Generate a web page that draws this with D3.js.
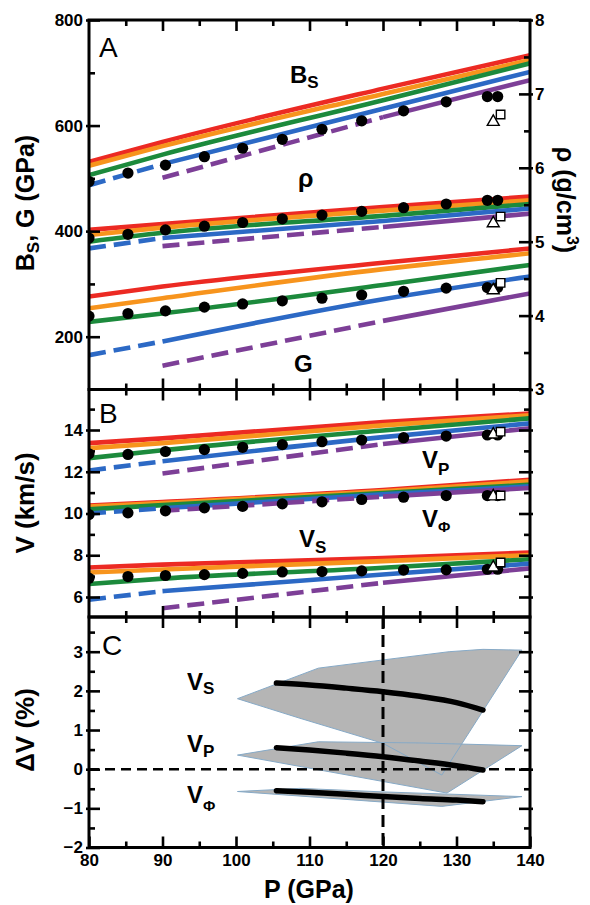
<!DOCTYPE html>
<html><head><meta charset="utf-8">
<script src="https://cdn.jsdelivr.net/npm/d3@7"></script>
<style>body{margin:0;background:#fff} svg{display:block} text{font-family:"Liberation Sans",Arial,Helvetica,sans-serif}</style>
</head><body><svg id="c" width="590" height="905"></svg>
<script>
// ---------------- DATA ----------------
const P_GRID = [80, 90, 120, 140];                 // pressure (GPa) at which model lines are read
const MODELS = ["model 1", "model 2", "model 3", "model 4", "model 5"];
const DASH_END = [null, null, null, 90, 120];       // model line is dashed up to this pressure
// Panel A (left axis, GPa)
const BS_LINES = [[531, 569, 670, 733], [524, 561, 660, 724], [506, 545, 648, 718], [487, 527, 632, 701.5], [null, 501, 616, 686]];
const G_LINES  = [[276, 295, 340, 367], [254, 273, 328, 358], [228, 244, 298, 336], [165, 191, 271, 314], [null, 145, 230, 282]];
// Panel A (right axis, g/cm3)
const RHO_LINES = [[5.16, 5.24, 5.47, 5.61], [5.09, 5.19, 5.42, 5.56], [5.00, 5.12, 5.35, 5.51], [4.91, 5.05, 5.28, 5.45], [null, 4.94, 5.20, 5.38]];
// Panel B (km/s)
const VP_LINES   = [[13.37, 13.60, 14.38, 14.79], [13.13, 13.37, 14.22, 14.71], [12.65, 13.03, 13.98, 14.56], [12.06, 12.50, 13.66, 14.32], [null, 11.92, 13.33, 14.08]];
const VPHI_LINES = [[10.38, 10.55, 11.12, 11.62], [10.33, 10.50, 11.06, 11.54], [10.20, 10.40, 10.98, 11.38], [10.00, 10.25, 10.92, 11.30], [null, 10.13, 10.81, 11.22]];
const VS_LINES   = [[7.41, 7.55, 7.87, 8.13], [7.17, 7.32, 7.72, 8.01], [6.62, 6.88, 7.40, 7.81], [5.87, 6.28, 7.08, 7.60], [null, 5.46, 6.68, 7.37]];
// Experimental points (filled circles)
const P_DOTS    = [80, 85.3, 90.4, 95.7, 100.9, 106.3, 111.7, 117.1, 122.8, 128.6, 134.2, 135.6];
const BS_DOTS   = [494, 510, 525, 541, 557, 574, 593, 609, 628, 645, 655, 655];
const RHO_DOTS  = [5.05, 5.10, 5.16, 5.21, 5.26, 5.31, 5.36, 5.41, 5.46, 5.51, 5.56, 5.56];
const G_DOTS    = [239, 244, 249, 256, 262, 268, 273, 279, 286, 292, 293, 293];
const VP_DOTS   = [12.86, 12.83, 12.97, 13.06, 13.17, 13.30, 13.44, 13.52, 13.63, 13.71, 13.76, 13.76];
const VPHI_DOTS = [9.95, 10.03, 10.13, 10.27, 10.34, 10.46, 10.56, 10.67, 10.78, 10.86, 10.86, 10.86];
const VS_DOTS   = [6.90, 6.98, 7.03, 7.07, 7.13, 7.20, 7.22, 7.25, 7.29, 7.30, 7.33, 7.33];
// Open triangle / open square points
const P_TRI = 135.0, P_SQ = 136.0;
const TRI = {bs: 607, rho: 5.25, g: 288, vp: 13.78, vphi: 10.82, vs: 7.41};
const SQ  = {bs: 621, rho: 5.34, g: 302, vp: 13.92, vphi: 10.86, vs: 7.65};
// Panel C: velocity differences (%)
const P_DV     = [105.5, 110, 115, 120, 125, 130, 133.6];
const DVS      = [2.20, 2.15, 2.07, 1.98, 1.86, 1.70, 1.51];
const DVP      = [0.55, 0.49, 0.41, 0.32, 0.21, 0.09, -0.02];
const DVPHI    = [-0.55, -0.59, -0.64, -0.70, -0.75, -0.79, -0.83];
// Uncertainty bands: [P, dV] upper edge then lower edge
const VS_BAND_UP   = [[100.2, 1.80], [111.2, 2.58], [120, 2.79], [129, 3.00], [133.6, 3.06], [138.9, 3.04]];
const VS_BAND_LO   = [[100.2, 1.80], [108.7, 1.30], [120, 0.66], [128, -0.15]];
const VP_BAND_UP   = [[100.2, 0.36], [111.2, 0.70], [125, 0.67], [138.9, 0.60]];
const VP_BAND_LO   = [[100.2, 0.36], [128.7, -0.61]];
const VPHI_BAND_UP = [[100.2, -0.57], [108.7, -0.49], [120, -0.58], [138.9, -0.70]];
const VPHI_BAND_LO = [[100.2, -0.57], [128, -0.95]];
const X_MAJOR = [80, 90, 100, 110, 120, 130, 140];

// ---------------- STYLE / LAYOUT ----------------
const COLORS = ["#ec2a23", "#f7941d", "#1c8a3c", "#2c69c5", "#7d3f97"];
const FONT = '"Liberation Sans",Arial,Helvetica,sans-serif';
const svg = d3.select("#c");
const X0 = 89, X1 = 530;
const PAN = [{top: 20, bottom: 389.5}, {top: 389.5, bottom: 617}, {top: 617, bottom: 847.5}];
const x  = d3.scaleLinear().domain([80, 140]).range([X0, X1]);
const yA = d3.scaleLinear().domain([200, 800]).range([336.7, 20]);
const yR = d3.scaleLinear().domain([3, 8]).range([389.5, 20]);
const yB = d3.scaleLinear().domain([6, 14]).range([597, 430]);
const yC = d3.scaleLinear().domain([-2, 3]).range([847.5, 651.7]);

const defs = svg.append("defs");
PAN.forEach((p, i) => defs.append("clipPath").attr("id", "clip" + i)
  .append("rect").attr("x", X0).attr("y", p.top).attr("width", X1 - X0).attr("height", p.bottom - p.top));

function modelLines(g, lines, y) {
  lines.forEach((vals, i) => {
    const pts = P_GRID.map((p, j) => [p, vals[j]]).filter(d => d[1] != null);
    const line = d3.line().x(d => x(d[0])).y(d => y(d[1])).curve(d3.curveMonotoneX);
    const de = DASH_END[i];
    const segs = de == null ? [[pts, false]] :
      [[pts.filter(d => d[0] <= de), true], [pts.filter(d => d[0] >= de), false]];
    segs.forEach(([s, dashed]) => {
      if (s.length < 2) return;
      g.append("path").attr("d", line(s)).attr("fill", "none")
        .attr("stroke", COLORS[i]).attr("stroke-width", 4.6)
        .attr("stroke-dasharray", dashed ? "17,8" : null);
    });
  });
}
function dots(g, vals, y) {
  g.selectAll(null).data(P_DOTS.map((p, i) => [p, vals[i]])).enter().append("circle")
    .attr("cx", d => x(d[0])).attr("cy", d => y(d[1])).attr("r", 5.6).attr("fill", "#000");
}
function openMarks(g, key, y) {
  const tx = x(P_TRI), ty = y(TRI[key]);
  g.append("path").attr("d", d3.symbol(d3.symbolTriangle, 62)())
    .attr("transform", `translate(${tx},${ty})`).attr("fill", "#fff").attr("stroke", "#000").attr("stroke-width", 1.4);
  const sx = x(P_SQ), sy = y(SQ[key]);
  g.append("path").attr("d", d3.symbol(d3.symbolSquare, 72)())
    .attr("transform", `translate(${sx},${sy})`).attr("fill", "#fff").attr("stroke", "#000").attr("stroke-width", 1.4);
}

function styleAxis(g) {
  g.select(".domain").remove();
  g.selectAll("line").attr("stroke", "#000").attr("stroke-width", 2.6);
  g.selectAll("text").attr("font-family", FONT).attr("font-size", 17).attr("font-weight", "bold").attr("fill", "#000");
}
function axis(gen) { return g => { g.call(gen); styleAxis(g); }; }

function frame(pi, yScale, major, minor, labelLeft, yRight, rMajor, rMinor, labelRight, labelBottom) {
  const p = PAN[pi];
  const xMinor = d3.range(85, 140, 10);
  [["top", d3.axisTop, p.top], ["bottom", d3.axisBottom, p.bottom]].forEach(([side, fn, yy]) => {
    const showLab = side === "bottom" && labelBottom;
    const maj = fn(x).tickValues(showLab ? X_MAJOR : X_MAJOR.slice(1, -1)).tickSize(-11).tickPadding(6)
      .tickFormat(showLab ? d3.format("d") : "");
    svg.append("g").attr("transform", `translate(0,${yy})`).call(axis(maj));
    const mn = fn(x).tickValues(xMinor).tickSize(-6).tickFormat("");
    svg.append("g").attr("transform", `translate(0,${yy})`).call(axis(mn));
  });
  const gl = svg.append("g").attr("transform", `translate(${X0},0)`)
    .call(axis(d3.axisLeft(yScale).tickValues(major).tickSize(-11).tickPadding(6).tickFormat(labelLeft ? d3.format("d") : "")));
  gl.selectAll(".tick line").attr("x1", -3);
  svg.append("g").attr("transform", `translate(${X0},0)`)
    .call(axis(d3.axisLeft(yScale).tickValues(minor).tickSize(-6).tickFormat("")));
  const gr = svg.append("g").attr("transform", `translate(${X1},0)`)
    .call(axis(d3.axisRight(yRight).tickValues(rMajor).tickSize(-11).tickPadding(5).tickFormat(labelRight ? d3.format("d") : "")));
  gr.selectAll(".tick line").attr("x1", 3);
  svg.append("g").attr("transform", `translate(${X1},0)`)
    .call(axis(d3.axisRight(yRight).tickValues(rMinor).tickSize(-6).tickFormat("")));
}

// ---------------- PANEL A ----------------
const gA = svg.append("g").attr("clip-path", "url(#clip0)");
modelLines(gA, BS_LINES, yA);
modelLines(gA, RHO_LINES, yR);
modelLines(gA, G_LINES, yA);
dots(gA, BS_DOTS, yA); dots(gA, RHO_DOTS, yR); dots(gA, G_DOTS, yA);
openMarks(gA, "bs", yA); openMarks(gA, "rho", yR); openMarks(gA, "g", yA);

// ---------------- PANEL B ----------------
const gB = svg.append("g").attr("clip-path", "url(#clip1)");
modelLines(gB, VP_LINES, yB);
modelLines(gB, VPHI_LINES, yB);
modelLines(gB, VS_LINES, yB);
dots(gB, VP_DOTS, yB); dots(gB, VPHI_DOTS, yB); dots(gB, VS_DOTS, yB);
openMarks(gB, "vp", yB); openMarks(gB, "vphi", yB); openMarks(gB, "vs", yB);

// ---------------- PANEL C ----------------
const gC = svg.append("g").attr("clip-path", "url(#clip2)");
const polyLine = d3.line().x(d => x(d[0])).y(d => yC(d[1]));
const bands = [[VP_BAND_UP, VP_BAND_LO], [VPHI_BAND_UP, VPHI_BAND_LO], [VS_BAND_UP, VS_BAND_LO]];
bands.forEach(([up, lo]) => {
  gC.append("path").attr("d", polyLine(up.concat(lo.slice().reverse())) + "Z").attr("fill", "#b5b5b5").attr("stroke", "none");
});
bands.forEach(([up, lo]) => {
  gC.append("path").attr("d", polyLine(up.concat(lo.slice().reverse())) + "Z").attr("fill", "none")
    .attr("stroke", "#86a9c6").attr("stroke-width", 1);
});
gC.append("line").attr("x1", X0).attr("x2", X1).attr("y1", yC(0)).attr("y2", yC(0))
  .attr("stroke", "#000").attr("stroke-width", 2.6).attr("stroke-dasharray", "10,6");
gC.append("line").attr("x1", x(120)).attr("x2", x(120)).attr("y1", PAN[2].top).attr("y2", PAN[2].bottom)
  .attr("stroke", "#000").attr("stroke-width", 3).attr("stroke-dasharray", "12,6");
const dvLine = d3.line().x(d => x(d[0])).y(d => yC(d[1])).curve(d3.curveMonotoneX);
[DVS, DVP, DVPHI].forEach(vals => {
  gC.append("path").attr("d", dvLine(P_DV.map((p, i) => [p, vals[i]]))).attr("fill", "none")
    .attr("stroke", "#000").attr("stroke-width", 5.5).attr("stroke-linecap", "round");
});

// ---------------- FRAMES / AXES ----------------
frame(0, yA, [200, 400, 600, 800], [300, 500, 700], true, yR, [3, 4, 5, 6, 7, 8], [3.5, 4.5, 5.5, 6.5, 7.5], true, false);
frame(1, yB, [6, 8, 10, 12, 14], [7, 9, 11, 13, 15], true, yB, [6, 8, 10, 12, 14], [7, 9, 11, 13, 15], false, false);
frame(2, yC, [-2, -1, 0, 1, 2, 3], [-1.5, -0.5, 0.5, 1.5, 2.5, 3.5], true, yC, [-1, 0, 1, 2, 3], [-1.5, -0.5, 0.5, 1.5, 2.5, 3.5], false, true);
PAN.forEach(p => svg.append("rect").attr("x", X0).attr("y", p.top).attr("width", X1 - X0).attr("height", p.bottom - p.top)
  .attr("fill", "none").attr("stroke", "#000").attr("stroke-width", 3));

// ---------------- TEXT ----------------
function txt(xx, yy, s, size, weight, anchor) {
  return svg.append("text").attr("x", xx).attr("y", yy).attr("font-size", size).attr("font-weight", weight || "bold")
    .attr("text-anchor", anchor || "start").attr("fill", "#000").text(s);
}
function vsub(xx, yy, main, sub, size, subSize, subDy) {
  const t = svg.append("text").attr("x", xx).attr("y", yy).attr("font-size", size).attr("font-weight", "bold").attr("fill", "#000");
  t.append("tspan").text(main);
  t.append("tspan").attr("font-size", subSize).attr("dy", subDy).text(sub);
  return t;
}
txt(99, 57, "A", 28, "normal");
txt(99, 423, "B", 28, "normal");
txt(102, 655, "C", 28, "normal");
vsub(290, 83, "B", "S", 24, 17, 5);
txt(298, 187, "ρ", 25, "bold");
txt(294, 372, "G", 24, "bold");
vsub(422, 468, "V", "P", 24, 17, 7);
vsub(422, 527, "V", "Φ", 24, 15, 5);
vsub(299, 547, "V", "S", 24, 17, 6);
vsub(187, 690, "V", "S", 24, 17, 4);
vsub(187, 752, "V", "P", 24, 17, 5);
vsub(187, 803, "V", "Φ", 24, 15, 8);
const t1 = svg.append("text").attr("transform", "translate(34,203) rotate(-90)").attr("text-anchor", "middle")
  .attr("font-size", 25).attr("font-weight", "bold");
t1.append("tspan").text("B");
t1.append("tspan").attr("font-size", 17).attr("dy", 5).text("S");
t1.append("tspan").attr("dy", -5).text(", G (GPa)");
svg.append("text").attr("transform", "translate(34,503) rotate(-90)").attr("text-anchor", "middle")
  .attr("font-size", 26).attr("font-weight", "bold").text("V (km/s)");
svg.append("text").attr("transform", "translate(34,730) rotate(-90)").attr("text-anchor", "middle")
  .attr("font-size", 26).attr("font-weight", "bold").text("ΔV (%)");
const t2 = svg.append("text").attr("transform", "translate(557,200) rotate(90)").attr("text-anchor", "middle")
  .attr("font-size", 25).attr("font-weight", "bold");
t2.append("tspan").text("ρ (g/cm");
t2.append("tspan").attr("font-size", 16).attr("dy", -10).text("3");
t2.append("tspan").attr("dy", 10).text(")");
txt(309, 898, "P (GPa)", 25, "bold", "middle");
</script></body></html>
